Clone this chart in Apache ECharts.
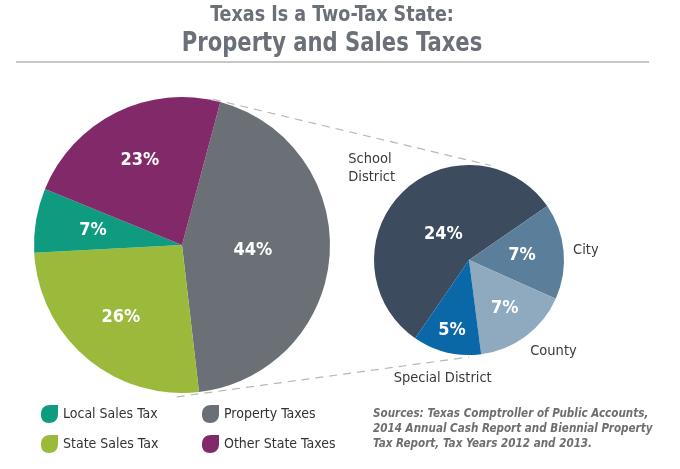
<!DOCTYPE html>
<html>
<head>
<meta charset="utf-8">
<title>Texas Is a Two-Tax State</title>
<script src="https://cdn.jsdelivr.net/npm/echarts@6/dist/echarts.min.js"></script>
<style>
	html, body { margin: 0; padding: 0; background: #fff; }
	#chart { width: 680px; height: 469px; }
</style>
</head>
<body>
<div id="chart"></div>
<script>
// data
var bigNames = ['Property Taxes', 'State Sales Tax', 'Local Sales Tax', 'Other State Taxes'];
var bigValues = [44, 26, 7, 23];
var smallNames = ['School District', 'City', 'County', 'Special District'];
var smallLabels = ['School\nDistrict', 'City', 'County', 'Special District'];
var smallValues = [24, 7, 7, 5];
var sourceLines = [
	'Sources: Texas Comptroller of Public Accounts,',
	'2014 Annual Cash Report and Biennial Property',
	'Tax Report, Tax Years 2012 and 2013.'
];

var bigColors = ['#6b7076', '#9bba3c', '#0e9b80', '#82296a'];
var smallColors = ['#3c4b5e', '#5b7f9b', '#8fa9bf', '#0a67a8'];

var FONT = '"Liberation Sans Narrow", "DejaVu Sans Condensed", Roboto, sans-serif';

// layout
var bigCenter = [182, 245], bigRadius = 148, bigStart = 75;
var smallCenter = [469, 260], smallRadius = 95, smallStart = 235.5;
var bigInnerPos = [0.48, 0.64, 0.61, 0.64];
var smallInnerPos = [0.38, 0.56, 0.63, 0.76];
var smallOuterPos = [1.1, 1.1, 1.08, 1.18];

function polar(center, r, deg) {
	var a = deg * Math.PI / 180;
	return [center[0] + r * Math.cos(a), center[1] - r * Math.sin(a)];
}

function midAngles(values, start) {
	var total = 0, out = [], a = start;
	values.forEach(function (v) { total += v; });
	values.forEach(function (v) {
		var span = v / total * 360;
		out.push(a - span / 2);
		a -= span;
	});
	return out;
}

var bigMid = midAngles(bigValues, bigStart);
var smallMid = midAngles(smallValues, smallStart);

function insideLayout(center, r, mids, factors) {
	return function (params) {
		var p = polar(center, r * factors[params.dataIndex], mids[params.dataIndex]);
		return { x: p[0], y: p[1], align: 'center', verticalAlign: 'middle' };
	};
}

// names sit just off the rim, pushed away from the pie; left side text stays left aligned
function outsideLayout(center, r, mids, factors) {
	return function (params) {
		var deg = mids[params.dataIndex];
		var p = polar(center, r * factors[params.dataIndex], deg);
		var c = Math.cos(deg * Math.PI / 180), s = Math.sin(deg * Math.PI / 180);
		var x = p[0], align = 'center';
		if (c > 0.3) {
			align = 'left';
		} else if (c < -0.3) {
			align = 'left';
			x = p[0] - params.labelRect.width;
		}
		return {
			x: x,
			y: p[1],
			align: align,
			verticalAlign: s > 0.3 ? 'bottom' : (s < -0.3 ? 'top' : 'middle')
		};
	};
}

var topA = polar(bigCenter, bigRadius + 1, bigStart + 3);
var topB = polar(smallCenter, smallRadius + 2, 77);
var botA = polar(bigCenter, bigRadius + 4, -92);
var botB = polar(smallCenter, smallRadius + 2, -90);

var legendIcon = 'path://M0,9 C0,3 4,0 9,0 L17,0 L17,9 C17,15 13,18 8,18 C3,18 0,15 0,10 Z';

var chart = echarts.init(document.getElementById('chart'));

var legendBase = {
	top: 400,
	orient: 'vertical',
	itemWidth: 17,
	itemHeight: 18,
	itemGap: 12,
	icon: legendIcon,
	selectedMode: false,
	textStyle: { fontFamily: FONT, fontSize: 14, color: '#333' }
};

var option = {
	backgroundColor: '#fff',
	animation: false,
	legend: [
		Object.assign({}, legendBase, { left: 36, data: [bigNames[2], bigNames[1]] }),
		Object.assign({}, legendBase, { left: 197, data: [bigNames[0], bigNames[3]] })
	],
	graphic: [
		{
			type: 'text',
			x: 332,
			y: 16,
			scaleX: 0.93,
			style: {
				text: 'Texas Is a Two-Tax State:',
				fontFamily: FONT, fontSize: 21, fontWeight: 'bold',
				fill: '#6b7078', align: 'center', verticalAlign: 'middle'
			}
		},
		{
			type: 'text',
			x: 332,
			y: 44,
			scaleX: 0.87,
			style: {
				text: 'Property and Sales Taxes',
				fontFamily: FONT, fontSize: 27, fontWeight: 'bold',
				fill: '#6b7078', align: 'center', verticalAlign: 'middle'
			}
		},
		{
			type: 'line',
			shape: { x1: 16, y1: 62, x2: 649, y2: 62 },
			style: { stroke: '#b4b4b4', lineWidth: 1.5 }
		},
		{
			type: 'line',
			shape: { x1: topA[0], y1: topA[1], x2: topB[0], y2: topB[1] },
			style: { stroke: '#b8b8b8', lineWidth: 1.2, lineDash: [8, 6] }
		},
		{
			type: 'line',
			shape: { x1: botA[0], y1: botA[1], x2: botB[0], y2: botB[1] },
			style: { stroke: '#b8b8b8', lineWidth: 1.2, lineDash: [8, 6] }
		},
		{
			type: 'text',
			x: 373,
			y: 406,
			scaleX: 0.89,
			style: {
				text: sourceLines.join('\n'),
				fontFamily: FONT, fontSize: 13, fontWeight: 'bold', fontStyle: 'italic',
				lineHeight: 15, fill: '#6e6e6e', align: 'left', verticalAlign: 'top'
			}
		}
	],
	series: [
		{
			type: 'pie',
			center: bigCenter,
			radius: bigRadius,
			startAngle: bigStart,
			clockwise: true,
			silent: true,
			itemStyle: { borderWidth: 0 },
			label: {
				show: true,
				position: 'inside',
				formatter: '{c}%',
				fontFamily: FONT, fontSize: 18, fontWeight: 'bold', color: '#fff'
			},
			labelLine: { show: false },
			labelLayout: insideLayout(bigCenter, bigRadius, bigMid, bigInnerPos),
			data: bigNames.map(function (n, i) {
				return { name: n, value: bigValues[i], itemStyle: { color: bigColors[i] } };
			})
		},
		{
			type: 'pie',
			center: smallCenter,
			radius: smallRadius,
			startAngle: smallStart,
			clockwise: true,
			silent: true,
			itemStyle: { borderWidth: 0 },
			label: {
				show: true,
				position: 'inside',
				formatter: '{c}%',
				fontFamily: FONT, fontSize: 18, fontWeight: 'bold', color: '#fff'
			},
			labelLine: { show: false },
			labelLayout: insideLayout(smallCenter, smallRadius, smallMid, smallInnerPos),
			data: smallNames.map(function (n, i) {
				return { name: n, value: smallValues[i], itemStyle: { color: smallColors[i] } };
			})
		},
		{
			// names around the small pie
			type: 'pie',
			center: smallCenter,
			radius: smallRadius,
			startAngle: smallStart,
			clockwise: true,
			silent: true,
			z: 1,
			itemStyle: { color: 'rgba(0,0,0,0)', borderWidth: 0 },
			label: {
				show: true,
				position: 'outside',
				formatter: function (p) { return smallLabels[p.dataIndex]; },
				fontFamily: FONT, fontSize: 14.5, color: '#3a3a3a', lineHeight: 18, align: 'left'
			},
			labelLine: { show: false },
			labelLayout: outsideLayout(smallCenter, smallRadius, smallMid, smallOuterPos),
			data: smallNames.map(function (n, i) {
				return { name: n, value: smallValues[i] };
			})
		}
	]
};

chart.setOption(option);
</script>
</body>
</html>
